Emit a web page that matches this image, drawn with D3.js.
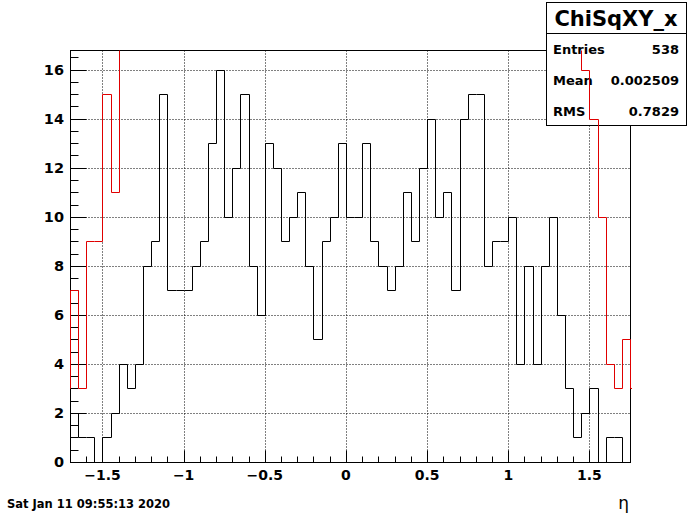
<!DOCTYPE html>
<html>
<head>
<meta charset="utf-8">
<script src="https://cdn.jsdelivr.net/npm/d3@7"></script>
<style>
  body { margin: 0; background: #fff; }
  text { font-family: "DejaVu Sans", sans-serif; font-weight: bold; }
</style>
</head>
<body>
<div id="chart"></div>
<script>
// histogram ChiSqXY_x, 69 bins of 0.05 from -1.7
var binStart = -1.7;
var binWidth = 0.05;
var counts = [2,1,1,0,1,2,4,3,4, 8,9,15,7,7,7,8,9,13,16,10,12,
  15,8,6,13,12,9,10,11,8,5, 9,10,13,10,10,13,9,8,7,8,
  11,9,12,14,10,11,7,14,15,15, 8,9,9,10,4,8,4,8,10,6,
  3,1,2,3,0,1,1,0];

// red overlay: only the outer bins are on scale, the rest go off the top
var redLeftStart = -1.75;
var redLeft = [3,7,3,9,9,15,11];
var redRightStart = 1.45;
var redRight = [16,14,10,4,3,5,3];

var xMajor = [-1.5,-1,-0.5,0,0.5,1,1.5];
var yMajor = [0,2,4,6,8,10,12,14,16];
var stats = [["Entries","538"],["Mean","0.002509"],["RMS","0.7829"]];

var W = 700, H = 514;
var svg = d3.select("#chart").append("svg").attr("width", W).attr("height", H);

var x = d3.scaleLinear().domain([-1.7, 1.75]).range([70, 630]);
var y = d3.scaleLinear().domain([0, 16.8]).range([462, 50]);
var px = function(v){ return Math.round(v) + 0.5; };

// grid
svg.append("g").selectAll("line").data(xMajor).enter().append("line")
  .attr("x1", d => px(x(d))).attr("x2", d => px(x(d)))
  .attr("y1", px(y(16.8))).attr("y2", px(y(0)))
  .attr("stroke","#000").attr("stroke-dasharray","1,2");
svg.append("g").selectAll("line").data(yMajor.slice(1)).enter().append("line")
  .attr("x1", px(x(-1.7))).attr("x2", px(x(1.75)))
  .attr("y1", d => px(y(d))).attr("y2", d => px(y(d)))
  .attr("stroke","#000").attr("stroke-dasharray","1,2");

// black histogram
function stepPath(start, vals, yStart, yEnd){
  var p = "M" + px(x(start)) + "," + yStart;
  vals.forEach(function(v, i){
    var lo = px(x(start + i*binWidth)), hi = px(x(start + (i+1)*binWidth));
    p += "L" + lo + "," + px(y(v)) + "L" + hi + "," + px(y(v));
  });
  p += "L" + px(x(start + vals.length*binWidth)) + "," + yEnd;
  return p;
}
svg.append("path")
  .attr("d", stepPath(binStart, counts, px(y(0)), px(y(0))))
  .attr("fill","none").attr("stroke","#000").attr("stroke-width",1);

// frame
svg.append("rect")
  .attr("x", px(x(-1.7))).attr("y", px(y(16.8)))
  .attr("width", px(x(1.75)) - px(x(-1.7))).attr("height", px(y(0)) - px(y(16.8)))
  .attr("fill","none").attr("stroke","#000");

// x axis ticks
var xMinor = d3.range(-17, 18).map(d => d/10);
svg.append("g").selectAll("line").data(xMinor).enter().append("line")
  .attr("x1", d => px(x(d))).attr("x2", d => px(x(d)))
  .attr("y1", px(y(0))).attr("y2", d => px(y(0)) - (xMajor.some(m => Math.abs(m-d) < 1e-6) ? 12 : 6))
  .attr("stroke","#000");
svg.append("g").selectAll("text").data(xMajor).enter().append("text")
  .attr("x", d => x(d)).attr("y", 480)
  .attr("text-anchor","middle").attr("font-size","14px")
  .text(d => d3.format("")(d).replace("-", "\u2212"));

// y axis ticks
var yMinor = d3.range(0, 34).map(d => d/2);
svg.append("g").selectAll("line").data(yMinor).enter().append("line")
  .attr("y1", d => px(y(d))).attr("y2", d => px(y(d)))
  .attr("x1", px(x(-1.7))).attr("x2", d => px(x(-1.7)) + (d % 2 === 0 ? 16 : 8))
  .attr("stroke","#000");
svg.append("g").selectAll("text").data(yMajor).enter().append("text")
  .attr("x", 64).attr("y", d => y(d) + 5)
  .attr("text-anchor","end").attr("font-size","14.5px")
  .text(d => d);

// stats box
var sb = svg.append("g");
sb.append("rect").attr("x",546.5).attr("y",2.5).attr("width",140).attr("height",123)
  .attr("fill","#fff").attr("stroke","#000");
sb.append("line").attr("x1",546.5).attr("x2",686.5).attr("y1",33.5).attr("y2",33.5).attr("stroke","#000");
sb.append("text").attr("x",616).attr("y",26).attr("text-anchor","middle")
  .attr("font-size","21px").text("ChiSqXY_x");
stats.forEach(function(s, i){
  sb.append("text").attr("x",553).attr("y",54 + i*31).attr("font-size","13px").text(s[0]);
  sb.append("text").attr("x",679).attr("y",54 + i*31).attr("text-anchor","end").attr("font-size","13px").text(s[1]);
});

// red overlay, clipped to the frame height
svg.append("clipPath").attr("id","clipy").append("rect")
  .attr("x", px(x(-1.7)) - 0.5).attr("y", px(y(16.8))).attr("width", 562).attr("height", px(y(0)) - px(y(16.8)));
var offTop = y(16.8) - 20;
var red = svg.append("g").attr("clip-path","url(#clipy)");
red.append("path").attr("d", stepPath(redLeftStart, redLeft, px(y(redLeft[0])), offTop))
  .attr("fill","none").attr("stroke","#e00000");
red.append("path").attr("d", stepPath(redRightStart, redRight, offTop, px(y(redRight[redRight.length-1]))))
  .attr("fill","none").attr("stroke","#e00000");

// date and axis title
svg.append("text").attr("x",7).attr("y",508).attr("font-size","11.5px").text("Sat Jan 11 09:55:13 2020");
svg.append("text").attr("x",629).attr("y",509).attr("text-anchor","end").attr("font-size","17px")
  .style("font-weight","normal").text("\u03b7");
</script>
</body>
</html>
